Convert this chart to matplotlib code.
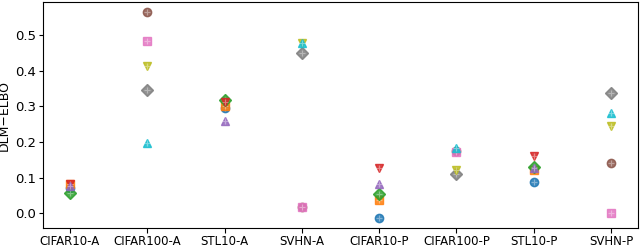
import matplotlib
matplotlib.use("Agg")
import matplotlib.pyplot as plt
import numpy as np

datasets = ["CIFAR10-A", "CIFAR100-A", "STL10-A", "SVHN-A",
            "CIFAR10-P", "CIFAR100-P", "STL10-P", "SVHN-P"]

# first five series appear on columns 0,2,4,6 ; last five on 1,3,5,7
cols_a = [0, 2, 4, 6]
cols_b = [1, 3, 5, 7]

s0 = [0.070, 0.294, -0.013, 0.088]   # blue circle
s1 = [0.083, 0.300, 0.038, 0.121]    # orange square
s2 = [0.057, 0.319, 0.055, 0.130]    # green diamond
s3 = [0.083, 0.313, 0.126, 0.160]    # red down-triangle
s4 = [0.076, 0.259, 0.081, 0.126]    # purple up-triangle
s5 = [0.565, 0.018, 0.175, 0.140]    # brown circle
s6 = [0.484, 0.018, 0.172, 0.001]    # pink square
s7 = [0.347, 0.449, 0.109, 0.336]    # gray diamond
s8 = [0.414, 0.478, 0.121, 0.245]    # olive down-triangle
s9 = [0.197, 0.478, 0.182, 0.280]    # cyan up-triangle

series = [s0, s1, s2, s3, s4, s5, s6, s7, s8, s9]
markers = ["o", "s", "D", "v", "^"]

fig = plt.figure(figsize=(6.4, 2.45), dpi=100)
ax = fig.add_axes([0.067, 0.069, 0.930, 0.923])

for i, vals in enumerate(series):
    cols = cols_a if i < 5 else cols_b
    c = f"C{i}"
    ax.plot(cols, vals, linestyle="none", marker=markers[i % 5], markersize=6,
            markerfacecolor=c, markeredgecolor=c, alpha=0.85, markeredgewidth=1)
    ax.plot(cols, vals, linestyle="none", marker="+", markersize=4,
            markeredgecolor="white", alpha=0.35, markeredgewidth=0.8)

ax.set_xticks(range(len(datasets)))
ax.set_xticklabels(datasets)
ax.set_xlim(-0.35, 7.35)
ax.set_ylim(-0.042, 0.593)
ax.set_yticks([0.0, 0.1, 0.2, 0.3, 0.4, 0.5])
ax.tick_params(axis="x", labelsize=8.5, pad=1.5, length=3.5)
ax.tick_params(axis="y", labelsize=9.5, pad=2, length=3)
ax.set_ylabel("DLM\u2212ELBO", fontsize=9, labelpad=3)

fig.savefig("out.png", dpi=100)
